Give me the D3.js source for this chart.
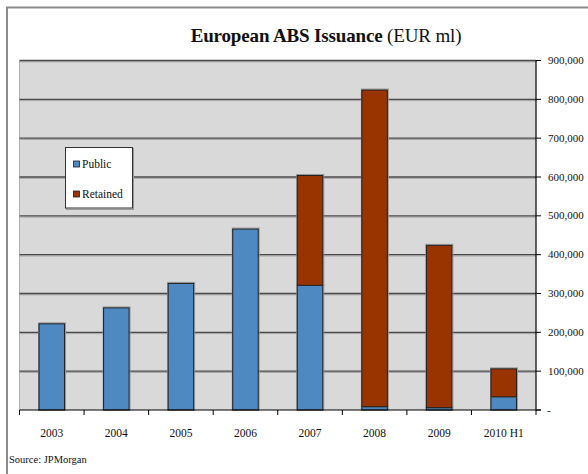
<!DOCTYPE html>
<html>
<head>
<meta charset="utf-8">
<script src="https://cdn.jsdelivr.net/npm/d3@7/dist/d3.min.js"></script>
<style>
  html, body { margin: 0; padding: 0; background: #fff; }
  svg { display: block; }
  text { font-family: "Liberation Serif", "DejaVu Serif", serif; fill: #111; }
</style>
</head>
<body>
<svg id="chart" width="588" height="474"></svg>
<script>
// European ABS issuance, EUR millions
const years = ["2003", "2004", "2005", "2006", "2007", "2008", "2009", "2010 H1"];
const publicIssuance   = [222000, 263000, 326000, 466000, 321000,   8500,   6000,  34000];
const retainedIssuance = [     0,      0,      0,      0, 283000, 815500, 418000,  72000];
const seriesNames = ["Public", "Retained"];
const seriesColors = ["#4f89c1", "#993300"];
const yTickValues = [0, 100000, 200000, 300000, 400000, 500000, 600000, 700000, 800000, 900000];
const yTickLabels = ["-", "100,000", "200,000", "300,000", "400,000", "500,000", "600,000", "700,000", "800,000", "900,000"];

const svg = d3.select("#chart");
const plot = { left: 19.5, right: 536, top: 60.5, bottom: 410 };

// outer frame (top and left edges)
svg.append("path")
  .attr("d", "M7,474 V7.5 H588")
  .attr("fill", "none").attr("stroke", "#8c8c8c").attr("stroke-width", 2);

// title
const title = svg.append("text")
  .attr("x", 326).attr("y", 42)
  .attr("text-anchor", "middle")
  .style("font-size", "19px")
  .style("letter-spacing", "-0.15px");
title.append("tspan").style("font-weight", "bold").text("European ABS Issuance");
title.append("tspan").text(" (EUR ml)");

const x = d3.scaleBand().domain(years).range([plot.left, plot.right]).padding(0);
const y = d3.scaleLinear().domain([0, 900000]).range([plot.bottom, plot.top]);
const barW = x.bandwidth() * 0.395;

// plot background
svg.append("rect")
  .attr("x", plot.left).attr("y", plot.top)
  .attr("width", plot.right - plot.left).attr("height", plot.bottom - plot.top)
  .attr("fill", "#d9d9d9");
svg.append("line")
  .attr("x1", plot.left).attr("x2", plot.left)
  .attr("y1", plot.top).attr("y2", plot.bottom)
  .attr("stroke", "#b0b0b0").attr("stroke-width", 1);

// gridlines with a soft shadow underneath
const grid = svg.append("g");
yTickValues.filter(d => d > 0).forEach(v => {
  grid.append("line")
    .attr("x1", plot.left).attr("x2", plot.right)
    .attr("y1", y(v) + 1.3).attr("y2", y(v) + 1.3)
    .attr("stroke", "#a6a6a6").attr("stroke-width", 1);
  grid.append("line")
    .attr("x1", plot.left).attr("x2", plot.right)
    .attr("y1", y(v)).attr("y2", y(v))
    .attr("stroke", "#4a4a4a").attr("stroke-width", 1.3);
});

// stacked bars
const stackData = years.map((yr, i) => ({ year: yr, Public: publicIssuance[i], Retained: retainedIssuance[i] }));
const stacked = d3.stack().keys(seriesNames)(stackData);

const bars = svg.append("g");
stacked.forEach((layer, li) => {
  layer.forEach(seg => {
    if (seg[1] - seg[0] <= 0) return;
    const bx = x(seg.data.year) + (x.bandwidth() - barW) / 2;
    // drop shadow
    bars.append("rect")
      .attr("x", bx - 0.5).attr("y", y(seg[1]) - 1)
      .attr("width", barW + 1.5).attr("height", y(seg[0]) - y(seg[1]) + 1)
      .attr("fill", "none").attr("stroke", "#9a9a9a").attr("stroke-width", 1);
    bars.append("rect")
      .attr("x", bx).attr("y", y(seg[1]))
      .attr("width", barW).attr("height", y(seg[0]) - y(seg[1]))
      .attr("fill", seriesColors[li])
      .attr("stroke", "#1e1e1e").attr("stroke-width", 1);
  });
});

// bottom axis
const xAxis = svg.append("g");
xAxis.append("line")
  .attr("x1", plot.left).attr("x2", plot.right + 5)
  .attr("y1", plot.bottom).attr("y2", plot.bottom)
  .attr("stroke", "#000").attr("stroke-width", 1.2);
years.concat([null]).forEach((yr, i) => {
  const tx = yr ? x(yr) : plot.right;
  xAxis.append("line")
    .attr("x1", tx).attr("x2", tx)
    .attr("y1", plot.bottom).attr("y2", plot.bottom + 5)
    .attr("stroke", "#000").attr("stroke-width", 1);
});
years.forEach(yr => {
  xAxis.append("text")
    .attr("x", x(yr) + x.bandwidth() / 2).attr("y", 437)
    .attr("text-anchor", "middle")
    .style("font-size", "11.5px")
    .text(yr);
});

// right-hand value axis
const yAxis = svg.append("g");
yAxis.append("line")
  .attr("x1", plot.right).attr("x2", plot.right)
  .attr("y1", plot.top).attr("y2", plot.bottom)
  .attr("stroke", "#000").attr("stroke-width", 1.2);
yTickValues.forEach((v, i) => {
  yAxis.append("line")
    .attr("x1", plot.right).attr("x2", plot.right + 5)
    .attr("y1", y(v)).attr("y2", y(v))
    .attr("stroke", "#000").attr("stroke-width", 1);
  yAxis.append("text")
    .attr("x", v === 0 ? 547 : 548).attr("y", y(v) + 3.5)
    .style("font-size", "11px")
    .text(yTickLabels[i]);
});

// legend
const legend = svg.append("g");
legend.append("rect")
  .attr("x", 66.5).attr("y", 148.5).attr("width", 67).attr("height", 61)
  .attr("fill", "none").attr("stroke", "#9a9a9a").attr("stroke-width", 1);
legend.append("rect")
  .attr("x", 65.5).attr("y", 147.5).attr("width", 67).attr("height", 60.5)
  .attr("fill", "#fff").attr("stroke", "#333").attr("stroke-width", 1);
seriesNames.forEach((name, i) => {
  const ly = 161 + i * 30;
  legend.append("rect")
    .attr("x", 73.5).attr("y", ly).attr("width", 6).attr("height", 6)
    .attr("fill", seriesColors[i]).attr("stroke", "#1e1e1e").attr("stroke-width", 0.8);
  legend.append("text")
    .attr("x", 82).attr("y", ly + 6.5)
    .style("font-size", "11.5px")
    .text(name);
});

// source note
svg.append("text")
  .attr("x", 9).attr("y", 463)
  .style("font-size", "10.5px")
  .text("Source: JPMorgan");
</script>
</body>
</html>
